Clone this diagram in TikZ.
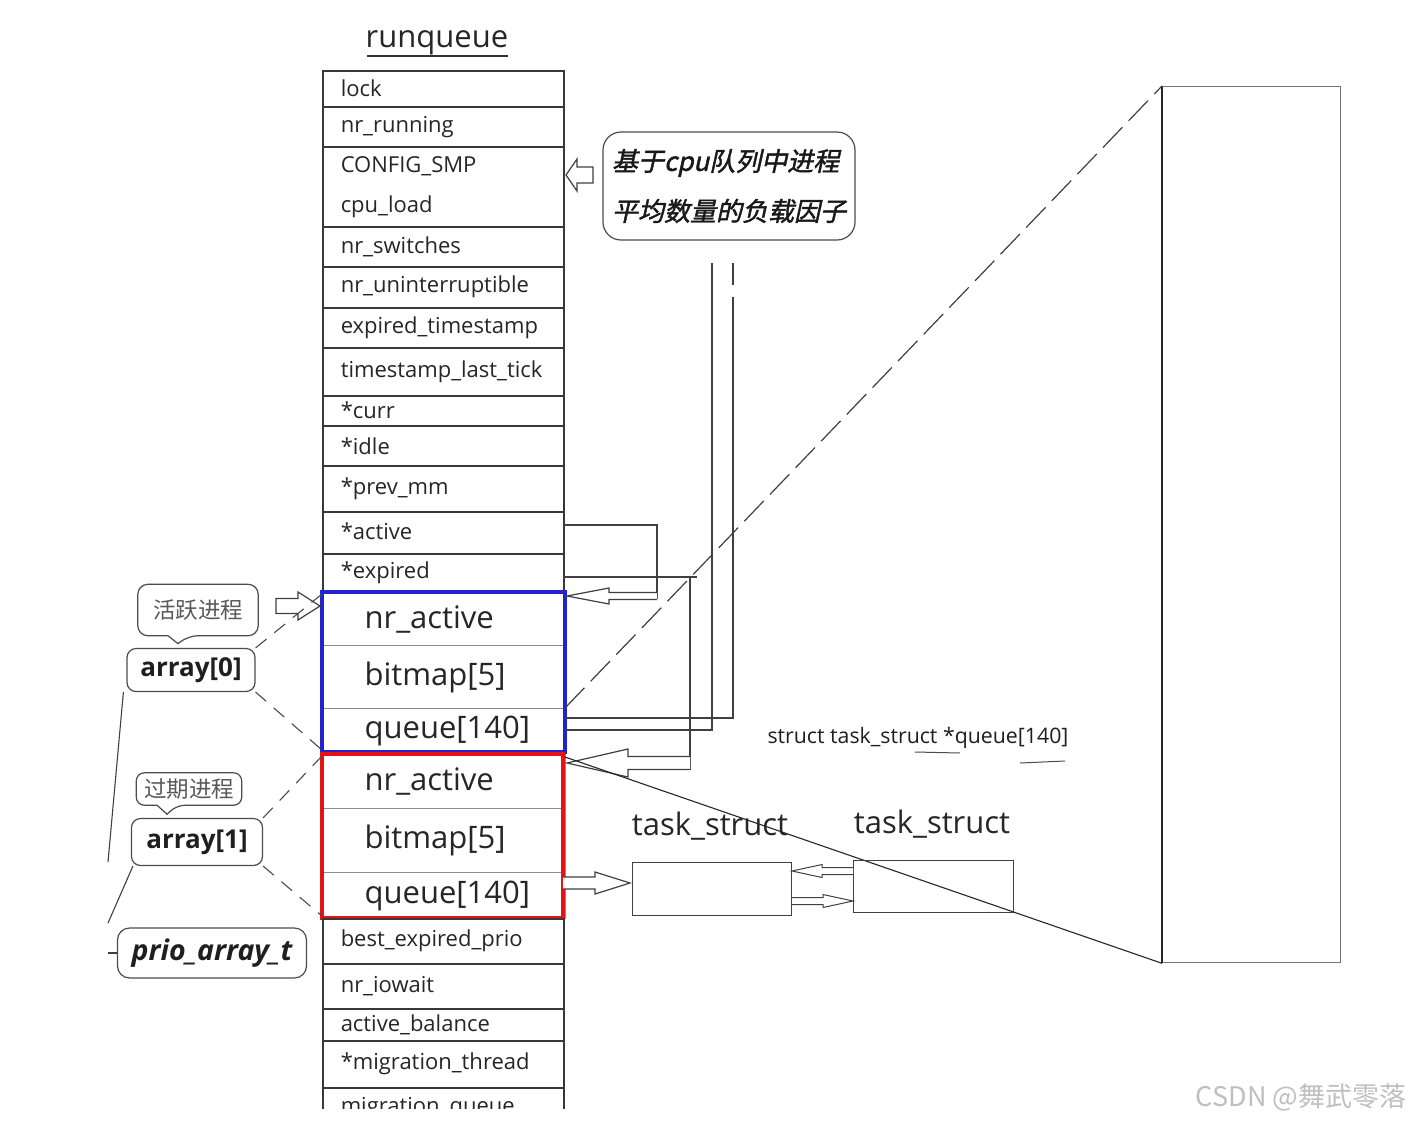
\documentclass[tikz,border=0pt]{standalone}
\usepackage{fontspec}
\setmainfont{Open Sans}
\newfontfamily\cjk{Noto Sans CJK SC}
\newfontfamily\cjkbi{Noto Sans CJK SC}[FakeSlant=0.22,FakeBold=1.6]
\usetikzlibrary{calc}
\newcommand\rqrow[5][]{\node[rowbox,#1,minimum height={#4-#3}] (#2) at (322,#3) {#5};}
\newcommand\blkarrow[7]{%
  \draw[blk,#1] let \p1=(#2), \p2=(#3), \n1={sign(\x2-\x1)} in
  (\x1,{\y1+#4}) -- ({\x2-\n1*#6},{\y1+#4}) -- ({\x2-\n1*#6},{\y1+#5}) -- (\x2,\y1)
  -- ({\x2-\n1*#6},{\y1-#5}) -- ({\x2-\n1*#6},{\y1-#4}) -- (\x1,{\y1-#4}) #7;}
\begin{document}
\begin{tikzpicture}[x=1pt,y=-1pt,
  rowbox/.style={draw=black!78, line width=1.5pt, rectangle, minimum width=241pt,
    text width=205pt, inner xsep=18pt, inner ysep=0pt, align=left, anchor=north west,
    font=\fontsize{22}{26}\selectfont, text=black!85},
  bigrow/.style={rowbox, draw=black!45, line width=1.2pt, minimum width=243pt, text width=207pt,
    font=\fontsize{31}{36}\selectfont},
  blk/.style={draw=black!75, line width=1.2pt, fill=white, line join=miter},
  conn/.style={draw=black!75, line width=1.4pt},
  dsh/.style={draw=black!70, line width=1.1pt, dash pattern=on 14pt off 10pt},
  lab/.style={draw=black!70, line width=1.2pt, rounded corners=9pt, inner sep=0pt, text=black!88},
  callout/.style={draw=black!70, line width=1.2pt}
]
\useasboundingbox (0,0) rectangle (1411,1122);
\fill[white] (0,0) rectangle (1411,1122);

% title
\node[font=\fontsize{31}{36}\selectfont, text=black!85] (title) at (437,43) {runqueue};
\draw[black!80, line width=1.2pt] (367,56) -- (508,56);

% runqueue rows
\rqrow{r1}{70}{106}{\raisebox{2pt}{lock}}
\rqrow{r2}{106}{146}{nr\_running}
\node[rowbox, minimum height=80pt, font=\fontsize{22}{40}\selectfont] (r3) at (322,146) {CONFIG\_SMP\\cpu\_load};
\rqrow{r4}{226}{266}{nr\_switches}
\rqrow{r5}{266}{307}{nr\_uninterruptible}
\rqrow{r6}{307}{347}{expired\_timestamp}
\rqrow{r7}{347}{395}{\raisebox{2pt}{timestamp\_last\_tick}}
\rqrow{r8}{395}{425}{\raisebox{2pt}{*curr}}
\rqrow{r9}{425}{465}{*idle}
\rqrow{r10}{465}{511}{*prev\_mm}
\rqrow{active}{511}{553}{\raisebox{3pt}{*active}}
\rqrow{expired}{553}{591}{*expired}
% array[0]
\rqrow[bigrow]{b1}{592}{645}{\hspace*{24pt}\raisebox{-5pt}{nr\_active}}
\rqrow[bigrow]{b2}{645}{708}{\hspace*{24pt}\raisebox{-2pt}{bitmap[5]}}
\rqrow[bigrow]{b3}{708}{752}{\hspace*{24pt}queue[140]}
\draw[draw={rgb,255:red,35;green,35;blue,205}, line width=3.8pt] (322,592) rectangle (565,752);
% array[1]
\rqrow[bigrow]{c1}{754}{808}{\hspace*{24pt}\raisebox{-5pt}{nr\_active}}
\rqrow[bigrow]{c2}{808}{872}{\hspace*{24pt}\raisebox{-2pt}{bitmap[5]}}
\rqrow[bigrow]{c3}{872}{918}{\hspace*{24pt}queue[140]}
\draw[draw={rgb,255:red,228;green,20;blue,20}, line width=3.8pt] (322,754) rectangle (563,918);
\rqrow{r20}{918}{963}{best\_expired\_prio}
\rqrow{r21}{963}{1008}{\raisebox{2pt}{nr\_iowait}}
\rqrow{r22}{1008}{1040}{active\_balance}
\rqrow{r23}{1040}{1087}{*migration\_thread}
\begin{scope}
\clip (300,1080) rectangle (600,1108);
\rqrow{r24}{1087}{1127}{\raisebox{3pt}{migration\_queue}}
\end{scope}

% top callout
\node[callout, rounded corners=18pt, minimum width=252pt, minimum height=108pt, align=left,
  font=\cjkbi\fontsize{26}{50}\selectfont, text=black!90] (load) at (729,186) {基于cpu队列中进程\\平均数量的负载因子};
\coordinate (la1) at (593,175);
\coordinate (la2) at (566,175);
\blkarrow{}{la1}{la2}{8pt}{16pt}{11pt}{-- cycle}

% connectors from *active / *expired / queue
\coordinate (actR) at (563,525);
\coordinate (actC) at (657,525);
\coordinate (actT) at (657,596);
\coordinate (actH) at (567,596);
\draw[conn] (actR) -- (actC) -- (657,599);
\blkarrow{}{actT}{actH}{3.5pt}{8pt}{42pt}{}

\coordinate (expR) at (563,577);
\coordinate (expC) at (690,577);
\coordinate (expB) at (690,770);
\draw[conn] (expR) -- (697,577);
\draw[conn] (expC) -- (expB);
\coordinate (expT) at (690,763);
\coordinate (expH) at (567,763);
\blkarrow{}{expT}{expH}{6.5pt}{14pt}{61pt}{}

\coordinate (q1) at (565,718);
\coordinate (q2) at (565,730);
\draw[conn] (q1) -- (733,718) -- (733,297);
\draw[conn] (733,285) -- (733,263);
\draw[conn] (q2) -- (712,730) -- (712,263);

% memory rectangle
\node[draw=black!55, line width=1.3pt, minimum width=178pt, minimum height=876pt, anchor=north west, inner sep=0pt] (mem) at (1162,86) {};
\draw[black!85, line width=1.3pt] (mem.north west) -- (mem.south west);
\coordinate (qd) at (565,708);
\coordinate (rd) at (565,757);
\draw[draw=black!75, line width=1.2pt, dash pattern=on 28pt off 9pt] (qd) -- (mem.north west);
\draw[draw=black!85, line width=1.1pt] (rd) -- (mem.south west);

% task structs
\node[draw=black!75, line width=1.3pt, minimum width=159pt, minimum height=53pt, anchor=north west, inner sep=0pt] (t1) at (632,862) {};
\node[draw=black!75, line width=1.3pt, minimum width=160pt, minimum height=52pt, anchor=north west, inner sep=0pt] (t2) at (853,860) {};
\node[font=\fontsize{31}{36}\selectfont, text=black!85] (t1l) at (710,826) {task\_struct};
\node[font=\fontsize{31}{36}\selectfont, text=black!85] (t2l) at (932,824) {task\_struct};
\coordinate (rq1) at (563,883);
\coordinate (rq2) at (630,883);
\blkarrow{}{rq1}{rq2}{6pt}{11pt}{35pt}{}
\coordinate (ta) at (853,871);
\coordinate (tb) at (792,871);
\blkarrow{line width=1pt}{ta}{tb}{3.5pt}{6.5pt}{30pt}{}
\coordinate (tc) at (792,901);
\coordinate (td) at (853,901);
\blkarrow{line width=1pt}{tc}{td}{3.5pt}{6.5pt}{30pt}{}

\node[font=\fontsize{21.3}{26}\selectfont, text=black!88] (qlab) at (918,738) {struct task\_struct *queue[140]};
\draw[black!70, line width=1pt] (915,752) -- (960,753);
\draw[black!70, line width=1pt] (1020,763) -- (1065,761);

% left labels
\node[font=\cjk\fontsize{22.5}{26}\selectfont, text=black!65, minimum width=120pt, minimum height=51pt, inner sep=0pt] (act) at (198,610) {活跃进程};
\draw[callout, rounded corners=10pt] (act.north west) -- (act.north east) -- (act.south east)
  -- ([xshift=-10pt]act.south) [sharp corners] -- ([xshift=-20pt,yshift=-8pt]act.south) -- ([xshift=-30pt]act.south)
  [rounded corners=10pt] -- (act.south west) -- cycle;
\node[lab, font=\bfseries\fontsize{26}{30}\selectfont, minimum width=128pt, minimum height=43pt] (a0) at (191,670) {array[0]};
\coordinate (a0arr1) at (276,606);
\coordinate (a0arr2) at (320,606);
\blkarrow{}{a0arr1}{a0arr2}{7.5pt}{14pt}{22pt}{-- cycle}

\node[font=\cjk\fontsize{22.5}{26}\selectfont, text=black!65, minimum width=105pt, minimum height=32pt, inner sep=0pt] (exp) at (189,789) {过期进程};
\draw[callout, rounded corners=8pt] (exp.north west) -- (exp.north east) -- (exp.south east)
  -- ([xshift=-12pt]exp.south) [sharp corners] -- ([xshift=-22pt,yshift=-9pt]exp.south) -- ([xshift=-32pt]exp.south)
  [rounded corners=8pt] -- (exp.south west) -- cycle;
\node[lab, font=\bfseries\fontsize{26}{30}\selectfont, minimum width=131pt, minimum height=47pt] (a1) at (197,842) {array[1]};
\node[lab, font=\bfseries\itshape\fontsize{28.5}{32}\selectfont, minimum width=189pt, minimum height=50pt, rounded corners=12pt] (prio) at (212,953) {prio\_array\_t};

\coordinate (bT) at (322,594);
\coordinate (bB) at (322,750);
\coordinate (cT) at (322,756);
\coordinate (cB) at (322,916);
\draw[dsh] (a0.north east) -- (bT);
\draw[dsh] (a0.south east) -- (bB);
\draw[dsh] (a1.north east) -- (cT);
\draw[dsh] (a1.south east) -- (cB);

\coordinate (k1) at (108,862);
\coordinate (k2) at (108,923);
\draw[black!75, line width=1.1pt] ([xshift=-3pt]a0.south west) -- (k1);
\draw[black!75, line width=1.1pt] ([xshift=2pt]a1.south west) -- (k2);
\draw[black!75, line width=1.1pt] (108,953) -- (prio.west);

% watermark
\node[font=\cjk\fontsize{27}{30}\selectfont, text=black!25] (wm) at (1301,1097) {CSDN @舞武零落};
\end{tikzpicture}
\end{document}
